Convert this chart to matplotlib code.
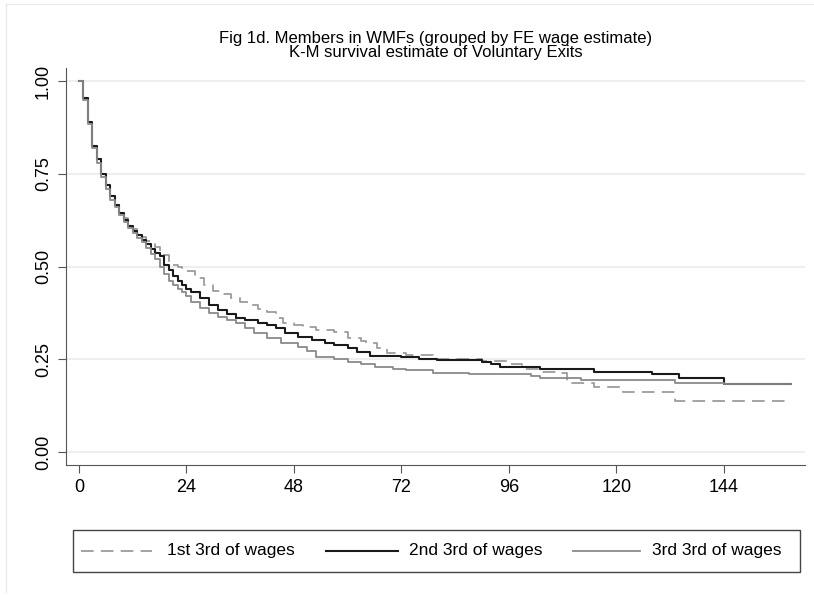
import matplotlib
matplotlib.use("Agg")
import matplotlib.pyplot as plt
from matplotlib.lines import Line2D
from matplotlib.patches import Rectangle

# K-M survival estimates (months since joining, survival share) per wage group
t_first = [0, 1, 2, 3, 4, 5, 6, 7, 8, 9, 10, 11, 12, 13, 14, 15, 16, 17, 18, 19,
           20, 21, 22, 23, 24, 26, 28, 30, 32, 34, 36, 38, 40, 42, 44, 45.5, 48,
           50, 53, 57, 60, 63, 64, 66.5, 68.7, 73, 79, 85, 90, 96, 99, 103, 107,
           109, 115, 121.5, 133, 158]
s_first = [1.0, 0.955, 0.89, 0.825, 0.79, 0.75, 0.72, 0.69, 0.665, 0.645, 0.63,
           0.615, 0.60, 0.59, 0.58, 0.57, 0.56, 0.552, 0.545, 0.53, 0.512, 0.505,
           0.50, 0.495, 0.488, 0.47, 0.45, 0.435, 0.425, 0.414, 0.405, 0.395,
           0.385, 0.378, 0.36, 0.347, 0.342, 0.336, 0.329, 0.324, 0.306, 0.30,
           0.293, 0.28, 0.266, 0.261, 0.252, 0.25, 0.245, 0.237, 0.225, 0.216,
           0.213, 0.187, 0.176, 0.162, 0.138, 0.138]

t_second = [0, 1, 2, 3, 4, 5, 6, 7, 8, 9, 10, 11, 12, 13, 14, 15, 16, 17, 18, 19,
            20, 21, 22, 23, 24, 25, 27, 29, 31, 33, 35, 37, 40, 42, 44, 46, 49,
            52, 55, 57, 60, 62, 65, 72, 76, 80, 90, 92, 94, 103, 115, 128, 134,
            144, 159]
s_second = [1.0, 0.955, 0.89, 0.825, 0.79, 0.75, 0.72, 0.69, 0.665, 0.645, 0.625,
            0.61, 0.595, 0.585, 0.572, 0.56, 0.548, 0.537, 0.527, 0.505, 0.49,
            0.475, 0.46, 0.45, 0.44, 0.43, 0.414, 0.395, 0.383, 0.372, 0.362,
            0.355, 0.348, 0.342, 0.333, 0.322, 0.311, 0.303, 0.295, 0.288, 0.28,
            0.27, 0.259, 0.257, 0.25, 0.248, 0.243, 0.237, 0.23, 0.223, 0.216,
            0.209, 0.199, 0.182, 0.182]

t_third = [0, 1, 2, 3, 4, 5, 6, 7, 8, 9, 10, 11, 12, 13, 14, 15, 16, 17, 18, 19,
           20, 21, 22, 23, 24, 25, 27, 29, 31, 33, 35, 37, 39, 42, 45, 49, 51, 53,
           57, 60, 63, 66, 70, 73, 79, 87, 101, 103, 112, 133, 144, 159]
s_third = [1.0, 0.95, 0.885, 0.82, 0.78, 0.74, 0.71, 0.68, 0.66, 0.64, 0.62,
           0.605, 0.59, 0.578, 0.565, 0.55, 0.535, 0.52, 0.50, 0.48, 0.462, 0.45,
           0.44, 0.43, 0.42, 0.405, 0.387, 0.375, 0.365, 0.356, 0.348, 0.335,
           0.322, 0.306, 0.295, 0.284, 0.272, 0.257, 0.25, 0.243, 0.237, 0.23,
           0.225, 0.221, 0.212, 0.21, 0.205, 0.199, 0.194, 0.187, 0.184, 0.184]

labels = ["1st 3rd of wages", "2nd 3rd of wages", "3rd 3rd of wages"]
xticks = [0, 24, 48, 72, 96, 120, 144]
yticks = [0.0, 0.25, 0.5, 0.75, 1.0]

styles = [dict(color="#9c9c9c", lw=1.3, dashes=(7, 4)),
          dict(color="#1a1a1a", lw=1.5),
          dict(color="#8a8a8a", lw=1.3)]

plt.rcParams["font.family"] = ["Liberation Sans", "DejaVu Sans"]

W, H = 814, 597
fig = plt.figure(figsize=(W / 100, H / 100), dpi=100)
ax = fig.add_axes([66 / W, 1 - 465 / H, (805 - 66) / W, (465 - 68) / H])

for t, s, st in zip([t_first, t_second, t_third], [s_first, s_second, s_third], styles):
    ax.plot(t, s, drawstyle="steps-post", **st)

ax.set_xlim(-2.9, 162.1)
ax.set_ylim(-0.035, 1.035)
ax.set_xticks(xticks)
ax.set_xticklabels([str(v) for v in xticks], fontsize=13)
ax.set_yticks(yticks)
ax.set_yticklabels(["%.2f" % v for v in yticks], fontsize=13, rotation=90,
                   va="center")
ax.grid(axis="y", color="#eaf0f0", lw=1.5)
ax.set_axisbelow(True)
for side in ["top", "right"]:
    ax.spines[side].set_visible(False)
for side in ["left", "bottom"]:
    ax.spines[side].set_color("#555555")
ax.tick_params(direction="out", length=6, color="#555555", pad=4)

fig.text(436 / W, 1 - 38 / H, "Fig 1d. Members in WMFs (grouped by FE wage estimate)",
         ha="center", va="center", fontsize=12)
fig.text(436 / W, 1 - 53 / H, "K-M survival estimate of Voluntary Exits",
         ha="center", va="center", fontsize=12)

# legend box laid out by hand in pixel positions
fig.add_artist(Rectangle((73 / W, 1 - 572 / H), 727 / W, 42 / H,
                         transform=fig.transFigure, fill=False,
                         edgecolor="#444444", lw=1.0))
handle_x = [(81, 152), (326, 398), (573, 640)]
text_x = [167, 409, 652]
ly = 1 - 551 / H
for (x0, x1), tx, lab, st in zip(handle_x, text_x, labels, styles):
    fig.add_artist(Line2D([x0 / W, x1 / W], [ly, ly], transform=fig.transFigure, **st))
    fig.text(tx / W, ly, lab, ha="left", va="center", fontsize=12.5)

# light outer frame
fig.add_artist(Line2D([6 / W, 6 / W], [1 - 592 / H, 1 - 4 / H],
                      transform=fig.transFigure, color="#e6ecec", lw=1))
fig.add_artist(Line2D([6 / W, 1], [1 - 4 / H, 1 - 4 / H],
                      transform=fig.transFigure, color="#e6ecec", lw=1))

fig.savefig("out.png", dpi=100)
